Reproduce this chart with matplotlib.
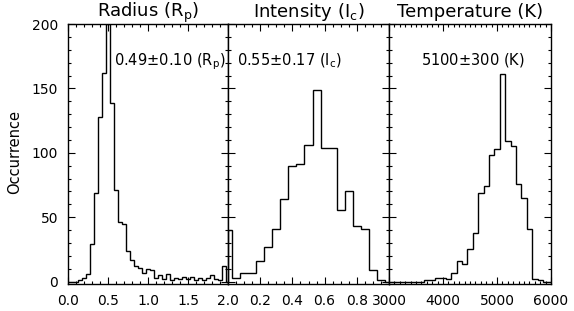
import matplotlib
matplotlib.use("Agg")
import matplotlib.pyplot as plt
import matplotlib.transforms as mtransforms
import numpy as np
from matplotlib.ticker import MultipleLocator, FixedLocator, FixedFormatter

# ---------------- data ----------------
radius_step = 0.05
radius_counts = [0, 0, 0, 1, 3, 6, 29, 69, 128, 162, 200, 139, 71, 46, 45, 24,
                 17, 12, 11, 7, 10, 9, 3, 5, 2, 6, 1, 3, 2, 4, 2, 4, 1, 3, 1,
                 3, 5, 2, 1, 12, 0]
intensity_step = 0.05
intensity_counts = [40, 3, 7, 7, 16, 27, 41, 64, 90, 91, 106, 149, 104, 104,
                    56, 70, 43, 41, 9, 1, 0]
temperature_start = 3000
temperature_step = 100
temperature_counts = [0, 0, 0, 0, 0, 0, 0, 1, 1, 3, 3, 2, 7, 16, 14, 25, 38,
                      69, 74, 98, 103, 161, 109, 105, 76, 65, 41, 2, 1, 0, 0]

titles = [r"Radius (R$_\mathrm{p}$)", r"Intensity (I$_\mathrm{c}$)",
          "Temperature (K)"]
notes = [r"0.49$\pm$0.10 (R$_\mathrm{p}$)", r"0.55$\pm$0.17 (I$_\mathrm{c}$)",
         r"5100$\pm$300 (K)"]
radius_ticks = [0.0, 0.5, 1.0, 1.5, 2.0]
radius_ticklabels = ["0.0", "0.5", "1.0", "1.5", "2.0"]
intensity_ticks = [0.2, 0.4, 0.6, 0.8]
intensity_ticklabels = ["0.2", "0.4", "0.6", "0.8"]
temperature_ticks = [3000, 4000, 5000, 6000]
temperature_ticklabels = ["3000", "4000", "5000", "6000"]
y_ticks = [0, 50, 100, 150, 200]
y_label = "Occurrence"

# ---------------- helpers ----------------
def centers(start, step, n):
    return start + step * np.arange(n)

def psym10_edges(c):
    mid = (c[:-1] + c[1:]) / 2.0
    return np.concatenate([[c[0]], mid, [c[-1]]])

W, H = 574, 311
fig = plt.figure(figsize=(W / 100, H / 100), dpi=100)
plt.rcParams["mathtext.fontset"] = "dejavusans"

bottom_px, top_px = 284, 24
panels_px = [(68, 228), (228, 389), (389, 551)]

specs = [
    (centers(0.0, radius_step, len(radius_counts)), radius_counts, (0, 2.0),
     radius_ticks, radius_ticklabels, 0.1),
    (centers(0.0, intensity_step, len(intensity_counts)), intensity_counts, (0, 1.0),
     intensity_ticks, intensity_ticklabels, 0.05),
    (centers(temperature_start, temperature_step, len(temperature_counts)),
     temperature_counts, (3000, 6000), temperature_ticks, temperature_ticklabels, 100),
]
note_pos = [(0.29, "left"), (0.054, "left"), (0.515, "center")]

for i, ((x0, x1), spec, title, note, (nx, nha)) in enumerate(
        zip(panels_px, specs, titles, notes, note_pos)):
    c, counts, xlim, ticks, ticklabels, minor = spec
    ax = fig.add_axes([x0 / W, 1 - bottom_px / H, (x1 - x0) / W,
                       (bottom_px - top_px) / H])
    ax.stairs(counts, psym10_edges(c), baseline=0, color="black", lw=1.0)
    ax.set_xlim(*xlim)
    ax.set_ylim(-1.8, 200)
    ax.xaxis.set_major_locator(FixedLocator(ticks))
    ax.xaxis.set_major_formatter(FixedFormatter(ticklabels))
    ax.xaxis.set_minor_locator(MultipleLocator(minor))
    ax.yaxis.set_major_locator(FixedLocator(y_ticks))
    ax.yaxis.set_minor_locator(MultipleLocator(10))
    ax.tick_params(which="both", direction="in", top=True, right=True,
                   width=0.8, labelsize=10, colors="black")
    ax.tick_params(which="major", length=5)
    ax.tick_params(which="minor", length=2.5)
    ax.tick_params(axis="x", which="major", pad=7)
    ax.tick_params(axis="y", which="major", pad=7)
    if i > 0:
        ax.tick_params(axis="y", labelleft=False)
    for s in ax.spines.values():
        s.set_linewidth(1.0)
        s.set_color("black")
    ax.text(0.5, 1 + (top_px - 16.7) / (bottom_px - top_px), title,
            transform=ax.transAxes, ha="center", va="baseline", fontsize=13)
    trans = mtransforms.blended_transform_factory(ax.transAxes, ax.transData)
    ax.text(nx, 168.2, note, transform=trans, ha=nha, va="baseline",
            fontsize=10.5)

fig.text(15 / W, 1 - 152 / H, y_label, rotation=90, ha="center", va="center",
         fontsize=10.5)

fig.savefig("out.png", dpi=100, facecolor="white")
